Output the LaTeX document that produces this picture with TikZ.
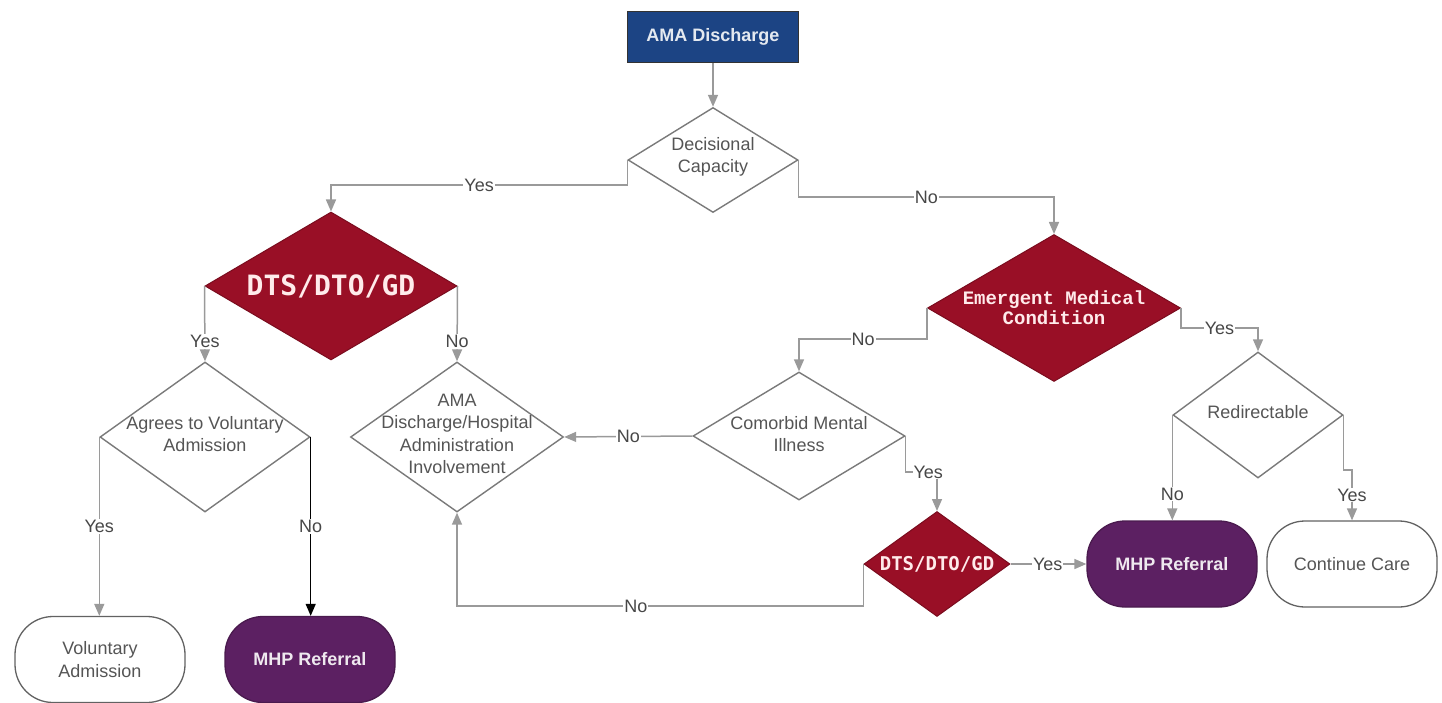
\documentclass[tikz,border=0pt]{standalone}
\usepackage{fontspec}
\setmainfont{Liberation Sans}
\newfontfamily\dmono{DejaVu Sans Mono}
\newfontfamily\lmono{Liberation Mono}
\usetikzlibrary{shapes.geometric,arrows.meta}
\definecolor{navy}{HTML}{1C4484}
\definecolor{wine}{HTML}{990F26}
\definecolor{plum}{HTML}{5C2062}
\definecolor{lin}{HTML}{9A9A9A}
\definecolor{bord}{HTML}{7A7A7A}
\definecolor{txt}{HTML}{555555}
\tikzset{
  base/.style={font=\fontsize{18}{22.5}\selectfont, align=center},
  startbox/.style={base, draw=black!80, line width=1.2pt, fill=navy, text=white!88!navy, font=\fontsize{18}{22}\selectfont\bfseries, minimum width=171pt, minimum height=51pt, inner sep=0pt},
  dia/.style={diamond, draw=bord, line width=1.4pt, fill=white, inner sep=0pt},
  rdia/.style={diamond, draw=wine!80!black, line width=1pt, fill=wine, inner sep=0pt},
  dtext/.style={base, text=txt, inner sep=0pt},
  wtext/.style={align=center, text=white!92!red, inner sep=0pt},
  term/.style={base, rounded corners=38pt, draw=bord!80!black, line width=1.3pt, minimum width=170pt, minimum height=86pt, inner sep=0pt},
  wterm/.style={term, fill=white, text=txt},
  pterm/.style={term, fill=plum, draw=plum!80!black, text=white!90!plum, font=\fontsize{18}{22}\selectfont\bfseries},
  arr/.style={draw=lin, line width=1.5pt, -{Triangle[length=12pt,width=10pt]}},
  lbl/.style={base, fill=white, text=black!72, inner sep=1pt}
}
\begin{document}
\begin{tikzpicture}[x=1pt,y=-1pt]
\useasboundingbox (0,0) rectangle (1442,703);

% nodes
\node[startbox] (ama) at (713,37) {AMA Discharge};
\node[dia, minimum width=170pt, minimum height=105pt,
  label={[dtext, yshift=3pt]center:{Decisional\\Capacity}}] (dec) at (713,160) {};
\node[rdia, minimum width=252pt, minimum height=148pt,
  label={[wtext, font=\dmono\bfseries\fontsize{28}{32}\selectfont]center:{DTS/DTO/GD}}] (dts) at (331,286) {};
\node[rdia, minimum width=253pt, minimum height=147pt,
  label={[wtext, font=\lmono\bfseries\fontsize{19}{20}\selectfont]center:{Emergent Medical\\Condition}}] (emc) at (1054,308) {};
\node[dia, minimum width=210pt, minimum height=150pt,
  label={[dtext, yshift=3pt]center:{Agrees to Voluntary\\Admission}}] (agree) at (205,437) {};
\node[dia, minimum width=213pt, minimum height=150pt,
  label={[dtext, yshift=3pt]center:{AMA\\Discharge/Hospital\\Administration\\Involvement}}] (amad) at (457,437) {};
\node[dia, minimum width=212pt, minimum height=128pt,
  label={[dtext, yshift=2pt]center:{Comorbid Mental\\Illness}}] (com) at (799,436) {};
\node[dia, minimum width=170pt, minimum height=126pt,
  label={[dtext, yshift=3pt]center:{Redirectable}}] (red) at (1258,415) {};
\node[rdia, minimum width=146pt, minimum height=105pt,
  label={[wtext, font=\dmono\bfseries\fontsize{19}{20}\selectfont]center:{DTS/DTO/GD}}] (dts2) at (937,564) {};
\node[wterm] (vol) at (100,659.5) {Voluntary\\Admission};
\node[pterm] (mhp1) at (310,659.5) {MHP Referral};
\node[pterm] (mhp2) at (1172,564) {MHP Referral};
\node[wterm] (cont) at (1352,564) {Continue Care};

% connectors
\draw[arr] (ama.south) -- (dec.north);
\draw[arr] (dec.west) -- ++(0,25) -| node[lbl, pos=0.25] {Yes} (dts.north);
\draw[arr] (dec.east) -- ++(0,37) -| node[lbl, pos=0.25] {No} (emc.north);
\draw[arr] (dts.west) -- node[lbl, pos=0.74] {Yes} (agree.north);
\draw[arr] (dts.east) -- node[lbl, pos=0.74] {No} (amad.north);
\draw[arr] (agree.west) -- node[lbl, pos=0.5] {Yes} (agree.west |- vol.north);
\draw[arr, draw=black, line width=1.3pt] (agree.east) -- node[lbl, pos=0.5] {No} (agree.east |- mhp1.north);
\draw[arr] (emc.west) -- ++(0,31) -| node[lbl, pos=0.25] {No} (com.north);
\draw[arr] (emc.east) -- ++(0,20) -| node[lbl, pos=0.25] {Yes} (red.north);
\draw[arr] (com.west) -- node[lbl, pos=0.5] {No} (amad.east);
\draw[arr] (com.east) -- ++(0,36) -| node[lbl, pos=0.36] {Yes} (dts2.north);
\draw[arr] (dts2.east) -- node[lbl, pos=0.49] {Yes} (mhp2.west);
\draw[arr] (dts2.west) -- ++(0,42) -| node[lbl, pos=0.28] {No} (amad.south);
\draw[arr] (red.west) -- node[lbl, pos=0.75] {No} (red.west |- mhp2.north);
\draw[arr] (red.east) -- ++(0,55) -| node[lbl, pos=0.75] {Yes} (cont.north);
\end{tikzpicture}
\end{document}
